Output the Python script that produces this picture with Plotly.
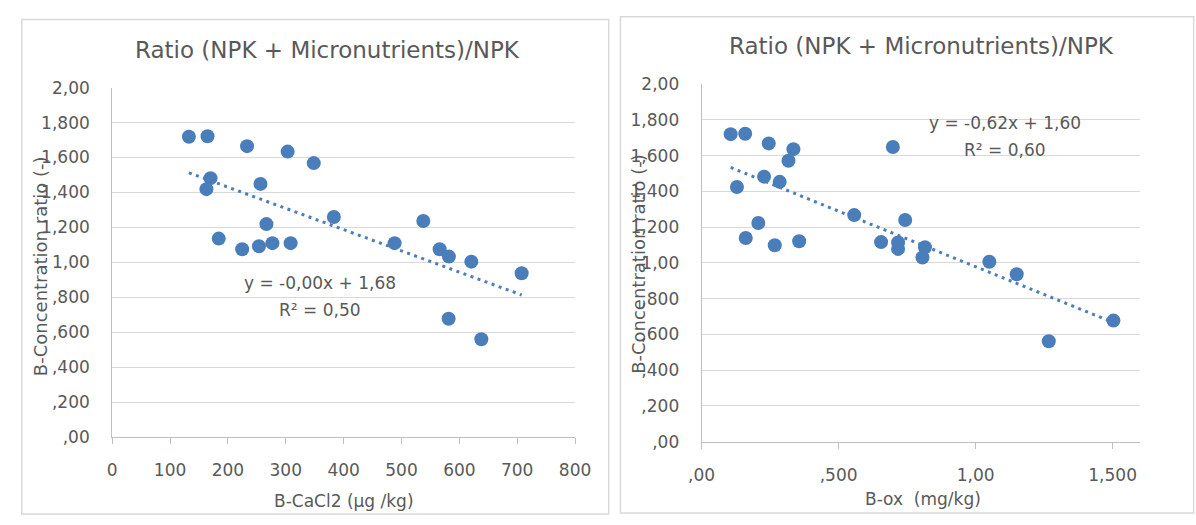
import numpy as np
import plotly.graph_objects as go

# ---------------- data ----------------
left_x = [132.6, 164.8, 233.1, 303.3, 348.4, 170.0, 162.9, 256.3, 383.1, 266.6, 184.2, 224.7,
          253.7, 276.9, 308.4, 488.1, 537.7, 566.0, 582.0, 620.7, 707.7, 581.5, 638.0]
left_y = [1.719, 1.722, 1.665, 1.634, 1.568, 1.482, 1.419, 1.449, 1.260, 1.219, 1.136, 1.075,
          1.092, 1.110, 1.110, 1.110, 1.237, 1.075, 1.033, 1.004, 0.938, 0.677, 0.560]

right_x = [0.106, 0.159, 0.245, 0.335, 0.317, 0.698, 0.228, 0.285, 0.129, 0.557, 0.743, 0.207,
           0.161, 0.267, 0.356, 0.655, 0.717, 0.717, 0.815, 0.806, 1.050, 1.150, 1.503, 1.267]
right_y = [1.720, 1.722, 1.668, 1.636, 1.571, 1.648, 1.482, 1.453, 1.424, 1.267, 1.240, 1.223,
           1.139, 1.098, 1.121, 1.116, 1.114, 1.078, 1.087, 1.030, 1.006, 0.936, 0.677, 0.561]

y_tickvals = [0.0, 0.2, 0.4, 0.6, 0.8, 1.0, 1.2, 1.4, 1.6, 1.8, 2.0]
y_ticktext = [",00", ",200", ",400", ",600", ",800", "1,00", "1,200", "1,400", "1,600", "1,800", "2,00"]
left_x_tickvals = [0, 100, 200, 300, 400, 500, 600, 700, 800]
right_x_tickvals = [0.0, 0.5, 1.0, 1.5]
right_x_ticktext = [",00", ",500", "1,00", "1,500"]

chart_title = "Ratio (NPK + Micronutrients)/NPK"
y_title = "B-Concentration ratio (-)"
left_x_title = "B-CaCl2 (µg /kg)"
right_x_title = "B-ox  (mg/kg)"
left_eq = ["y = -0,00x + 1,68", "R² = 0,50"]
right_eq = ["y = -0,62x + 1,60", "R² = 0,60"]

# ---------------- style ----------------
W, H = 1196, 525
BLUE = "#4A7EBB"
TXT = "#595959"
GRID = "#D9D9D9"
AXL = "#BFBFBF"
FONT = "DejaVu Sans"

def px(x):
    return x / W

def py(y):
    return 1 - y / H

fig = go.Figure()

# scatter points
fig.add_trace(go.Scatter(x=left_x, y=left_y, mode="markers", xaxis="x", yaxis="y",
                         marker=dict(size=14, color=BLUE), showlegend=False))
fig.add_trace(go.Scatter(x=right_x, y=right_y, mode="markers", xaxis="x2", yaxis="y2",
                         marker=dict(size=14, color=BLUE), showlegend=False))

# trendlines (linear fit of the data)
for xs, ys, xa, ya in [(left_x, left_y, "x", "y"), (right_x, right_y, "x2", "y2")]:
    m, b = np.polyfit(xs, ys, 1)
    xl = np.array([min(xs), max(xs)])
    fig.add_trace(go.Scatter(x=xl, y=m * xl + b, mode="lines", xaxis=xa, yaxis=ya,
                             line=dict(color=BLUE, width=3, dash="3px,4.5px"),
                             showlegend=False))

tickfont = dict(family=FONT, size=17, color=TXT)

yax_common = dict(range=[0, 2.0], tickvals=y_tickvals, ticktext=y_ticktext,
                  showgrid=True, gridcolor=GRID, gridwidth=1, zeroline=False,
                  showline=True, linecolor=AXL, linewidth=1, ticks="",
                  tickfont=tickfont, ticklabelstandoff=18, fixedrange=True)
xax_common = dict(showgrid=False, zeroline=False, showline=True, linecolor=AXL,
                  linewidth=1, ticks="outside", ticklen=6, tickcolor=AXL,
                  tickfont=tickfont, ticklabelstandoff=12, fixedrange=True)

fig.update_layout(
    width=W, height=H,
    margin=dict(l=0, r=0, t=0, b=0),
    paper_bgcolor="white", plot_bgcolor="white",
    xaxis=dict(domain=[px(100.7), px(575.5)], range=[0, 800],
               tickvals=left_x_tickvals, anchor="y", **xax_common),
    yaxis=dict(domain=[py(444), py(80.7)], anchor="x", **yax_common),
    xaxis2=dict(domain=[px(705.3), px(1155)], range=[0, 1.6],
                tickvals=right_x_tickvals, ticktext=right_x_ticktext, anchor="y2",
                **xax_common),
    yaxis2=dict(domain=[py(448.7), py(77)], anchor="x2", **yax_common),
)

# panel borders
fig.add_shape(type="rect", xref="paper", yref="paper",
              x0=px(8), x1=px(610), y0=py(524), y1=py(10),
              line=dict(color=GRID, width=1.5), fillcolor="rgba(0,0,0,0)", layer="below")
fig.add_shape(type="rect", xref="paper", yref="paper",
              x0=px(622), x1=px(1210), y0=py(523), y1=py(7),
              line=dict(color=GRID, width=1.5), fillcolor="rgba(0,0,0,0)", layer="below")

def ann(text, x, y, size, angle=0):
    fig.add_annotation(text=text, x=px(x), y=py(y), xref="paper", yref="paper",
                       xanchor="center", yanchor="middle", showarrow=False,
                       textangle=angle, font=dict(family=FONT, size=size, color=TXT))

# titles
ann(chart_title, 322, 42, 23)
ann(chart_title, 931, 37, 23)
# axis titles
ann(left_x_title, 338, 510, 17)
ann(right_x_title, 932, 508, 17)
ann(y_title, 28, 266, 18, -90)
ann(y_title, 641, 264, 18, -90)
# equations
ann(left_eq[0], 314, 284, 17)
ann(left_eq[1], 314, 312, 17)
ann(right_eq[0], 1017, 117, 17)
ann(right_eq[1], 1017, 146, 17)

fig.write_html("out.html")
